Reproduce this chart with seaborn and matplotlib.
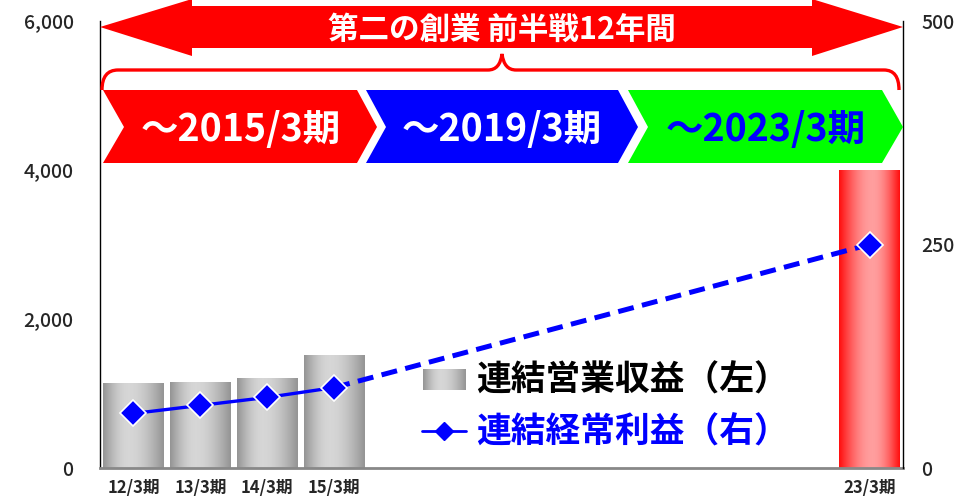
import numpy as np
import pandas as pd
import matplotlib
matplotlib.use("Agg")
import matplotlib.pyplot as plt
import seaborn as sns
from matplotlib.patches import Polygon, PathPatch
from matplotlib.path import Path
from matplotlib.ticker import FuncFormatter

# data
periods = ['12/3期', '13/3期', '14/3期', '15/3期', '16/3期', '17/3期',
           '18/3期', '19/3期', '20/3期', '21/3期', '22/3期', '23/3期']
bar_periods = ['12/3期', '13/3期', '14/3期', '15/3期', '23/3期']
revenue = [1140, 1155, 1210, 1515, 4000]       # 連結営業収益 (left axis)
profit = [61, 70, 79, 90, 250]                  # 連結経常利益 (right axis)
left_ticks = [0, 2000, 4000, 6000]
right_ticks = [0, 250, 500]
title_text = '第二の創業 前半戦12年間'
phase_labels = ['～2015/3期', '～2019/3期', '～2023/3期']
legend_labels = ['連結営業収益（左）', '連結経常利益（右）']

sns.set_theme(style='white')
plt.rcParams['font.family'] = ['Noto Sans CJK JP', 'DejaVu Sans']

df = pd.DataFrame({'period': bar_periods, 'revenue': revenue, 'profit': profit})
xpos = [periods.index(p) for p in bar_periods]

W, H = 964, 501
fig = plt.figure(figsize=(W / 100, H / 100), dpi=100)
ax = fig.add_axes([100 / W, (H - 468) / H, 803 / W, (468 - 21) / H])

sns.barplot(data=df, x='period', y='revenue', order=periods, width=0.91,
            color='#bbbbbb', ax=ax, zorder=2)


def gradient(edge, mid, peak):
    t = np.linspace(0, 1, 256)
    w = np.where(t < peak, t / peak, (1 - t) / (1 - peak))
    w = np.sin(w * np.pi / 2)
    edge, mid = np.array(edge), np.array(mid)
    return (edge[None, :] + (mid - edge)[None, :] * w[:, None])[None, :, :]


gray_grad = gradient([0.58, 0.58, 0.58], [0.84, 0.84, 0.84], 0.42)
red_grad = gradient([1.0, 0.05, 0.05], [1.0, 0.62, 0.62], 0.55)

for p in list(ax.patches):
    x0, y0, w, h = p.get_x(), p.get_y(), p.get_width(), p.get_height()
    if not np.isfinite(h) or h == 0:
        continue
    g = red_grad if x0 + w / 2 > 10 else gray_grad
    im = ax.imshow(g, extent=[x0, x0 + w, y0, y0 + h], aspect='auto',
                   interpolation='bicubic', zorder=2)
    im.set_clip_path(p)
    p.set_facecolor('none')
    p.set_edgecolor('none')

ax.set_xlim(-0.5, 11.5)
ax.set_ylim(0, 6000)
ax.set_yticks(left_ticks)
ax.yaxis.set_major_formatter(FuncFormatter(lambda v, _: f'{int(v):,}'))
ax.set_xticks(range(len(periods)))
ax.set_xticklabels([p if p in bar_periods else '' for p in periods],
                   fontsize=12, fontweight='bold')
ax.set_xlabel('')
ax.set_ylabel('')
ax.tick_params(axis='x', length=0, pad=8)
ax.tick_params(axis='y', length=0, pad=19, labelsize=14)
for lbl in ax.get_yticklabels():
    lbl.set_fontweight('medium')
ax.spines['top'].set_visible(False)
ax.spines['left'].set_color('black')
ax.spines['left'].set_linewidth(1)
ax.spines['right'].set_visible(False)
ax.spines['bottom'].set_color('#888888')
ax.spines['bottom'].set_linewidth(2)

ax2 = ax.twinx()
ax2.set_ylim(0, 500)
ax2.set_yticks(right_ticks)
ax2.tick_params(axis='y', length=0, pad=13, labelsize=14)
for lbl in ax2.get_yticklabels():
    lbl.set_fontweight('medium')
for s in ['top', 'left', 'bottom']:
    ax2.spines[s].set_visible(False)
ax2.spines['right'].set_color('black')
ax2.spines['right'].set_linewidth(1)
ax2.plot(xpos[:4], profit[:4], color='#0000ff', lw=2.4, zorder=3)
ax2.plot(xpos[3:], profit[3:], color='#0000ff', lw=3.6, ls=(0, (3.2, 1.7)),
         zorder=3)
ax2.plot(xpos, profit, ls='none', marker='D', ms=13, mfc='#0000ff',
         mec='white', mew=1.2, zorder=4)

# overlay in pixel coordinates for the banners and legend
ov = fig.add_axes([0, 0, 1, 1], zorder=10)
ov.set_xlim(0, W)
ov.set_ylim(H, 0)
ov.axis('off')

arrow = [(100, 27), (192, -1), (192, 6), (812, 6), (812, -1), (903, 27),
         (812, 56), (812, 48), (192, 48), (192, 56)]
ov.add_patch(Polygon(arrow, closed=True, fc='#ff0000', ec='none'))
ov.text(502, 30, title_text, color='white', fontsize=22, fontweight='bold',
        ha='center', va='center')

verts = [(102, 90), (102, 70), (118, 70), (488, 70), (500, 70), (502, 54),
         (504, 70), (516, 70), (884, 70), (899, 70), (899, 90)]
codes = [Path.MOVETO, Path.CURVE3, Path.CURVE3, Path.LINETO, Path.CURVE3,
         Path.CURVE3, Path.CURVE3, Path.CURVE3, Path.LINETO, Path.CURVE3,
         Path.CURVE3]
ov.add_patch(PathPatch(Path(verts, codes), fc='none', ec='#ff0000', lw=2.4))

top, mid_y, bot = 90, 127, 163
chevrons = [
    ([(103, top), (357, top), (377, mid_y), (357, bot), (103, bot),
      (124, mid_y)], '#ff0000', 'white', 241),
    ([(366, top), (618, top), (638, mid_y), (618, bot), (366, bot),
      (386, mid_y)], '#0000ff', 'white', 502),
    ([(628, top), (882, top), (903, mid_y), (882, bot), (628, bot),
      (648, mid_y)], '#00ff00', '#0000ff', 766),
]
for (pts, fc, tc, cx), label in zip(chevrons, phase_labels):
    ov.add_patch(Polygon(pts, closed=True, fc=fc, ec='none'))
    ov.text(cx, mid_y + 2, label, color=tc, fontsize=27, fontweight='bold',
            ha='center', va='center')

# legend
ov.imshow(gray_grad, extent=[423, 466, 390, 369], aspect='auto',
          interpolation='bicubic', zorder=5)
ov.text(476, 380, legend_labels[0], color='black', fontsize=25,
        fontweight='bold', ha='left', va='center')
ov.plot([422, 466], [431, 431], color='#0000ff', lw=2, zorder=5)
ov.plot([444], [431], marker='D', ms=9, mfc='#0000ff', mec='#0000ff', zorder=6)
ov.text(476, 432, legend_labels[1], color='#0000ff', fontsize=25,
        fontweight='bold', ha='left', va='center')
ov.set_xlim(0, W)
ov.set_ylim(H, 0)

fig.savefig('out.png', dpi=100)
